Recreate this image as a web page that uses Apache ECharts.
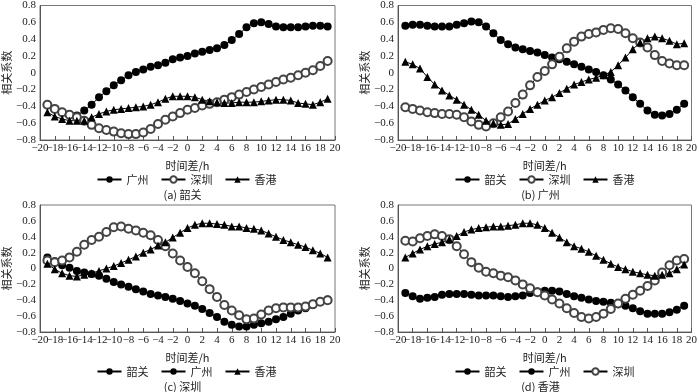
<!DOCTYPE html>
<html><head><meta charset="utf-8">
<script src="https://cdn.jsdelivr.net/npm/echarts@6/dist/echarts.min.js"></script>
<style>html,body{margin:0;padding:0;background:#fff}#c{width:700px;height:392px}</style>
</head><body><div id="c"></div>
<script>
const hours = [-19,-18,-17,-16,-15,-14,-13,-12,-11,-10,-9,-8,-7,-6,-5,-4,-3,-2,-1,0,1,2,3,4,5,6,7,8,9,10,11,12,13,14,15,16,17,18,19];

// (a) 韶关
const a_guangzhou = [-0.38,-0.43,-0.47,-0.50,-0.51,-0.45,-0.38,-0.29,-0.22,-0.15,-0.09,-0.03,0.01,0.04,0.07,0.09,0.12,0.16,0.18,0.20,0.23,0.25,0.27,0.29,0.33,0.39,0.46,0.54,0.59,0.60,0.58,0.55,0.54,0.54,0.54,0.55,0.56,0.56,0.55];
const a_shenzhen = [-0.38,-0.43,-0.47,-0.50,-0.53,-0.57,-0.62,-0.66,-0.68,-0.70,-0.72,-0.73,-0.73,-0.71,-0.67,-0.61,-0.56,-0.52,-0.48,-0.44,-0.42,-0.39,-0.37,-0.35,-0.32,-0.29,-0.26,-0.23,-0.20,-0.17,-0.14,-0.11,-0.08,-0.06,-0.03,0.00,0.03,0.08,0.14];
const a_hongkong = [-0.47,-0.52,-0.55,-0.57,-0.57,-0.57,-0.53,-0.49,-0.46,-0.44,-0.43,-0.42,-0.41,-0.40,-0.38,-0.35,-0.31,-0.28,-0.28,-0.28,-0.29,-0.32,-0.34,-0.35,-0.36,-0.36,-0.35,-0.35,-0.35,-0.34,-0.33,-0.32,-0.32,-0.33,-0.36,-0.37,-0.38,-0.35,-0.31];

// (b) 广州
const b_shaoguan = [0.56,0.57,0.57,0.56,0.55,0.55,0.55,0.57,0.59,0.61,0.60,0.55,0.47,0.39,0.34,0.30,0.28,0.26,0.24,0.21,0.18,0.16,0.13,0.10,0.07,0.04,0.01,-0.03,-0.08,-0.14,-0.21,-0.29,-0.37,-0.45,-0.50,-0.51,-0.49,-0.44,-0.37];
const b_shenzhen = [-0.41,-0.43,-0.45,-0.47,-0.48,-0.49,-0.49,-0.50,-0.53,-0.58,-0.62,-0.64,-0.60,-0.53,-0.46,-0.36,-0.26,-0.15,-0.05,0.02,0.10,0.19,0.29,0.37,0.43,0.46,0.48,0.51,0.53,0.52,0.47,0.41,0.36,0.30,0.21,0.14,0.11,0.09,0.09];
const b_hongkong = [0.13,0.10,0.05,-0.05,-0.14,-0.21,-0.27,-0.32,-0.38,-0.44,-0.50,-0.57,-0.60,-0.62,-0.61,-0.55,-0.49,-0.43,-0.38,-0.33,-0.29,-0.24,-0.19,-0.14,-0.11,-0.08,-0.06,-0.03,0.01,0.09,0.18,0.28,0.36,0.41,0.43,0.41,0.38,0.34,0.35];

// (c) 深圳
const c_shaoguan = [0.14,0.09,0.04,0.01,-0.03,-0.05,-0.07,-0.09,-0.13,-0.17,-0.20,-0.23,-0.26,-0.29,-0.32,-0.34,-0.36,-0.38,-0.41,-0.44,-0.47,-0.51,-0.56,-0.61,-0.67,-0.71,-0.73,-0.73,-0.71,-0.69,-0.67,-0.64,-0.61,-0.57,-0.53,-0.50,-0.46,-0.42,-0.39];
const c_guangzhou = [0.10,0.08,0.10,0.14,0.21,0.30,0.36,0.40,0.46,0.52,0.53,0.50,0.48,0.45,0.42,0.36,0.28,0.19,0.10,0.02,-0.06,-0.16,-0.26,-0.36,-0.46,-0.53,-0.59,-0.64,-0.63,-0.58,-0.53,-0.50,-0.49,-0.49,-0.49,-0.48,-0.45,-0.42,-0.40];
const c_hongkong = [0.06,-0.01,-0.06,-0.09,-0.10,-0.08,-0.06,-0.03,0.00,0.03,0.07,0.11,0.15,0.20,0.24,0.29,0.33,0.39,0.45,0.51,0.55,0.57,0.57,0.56,0.55,0.53,0.53,0.51,0.50,0.48,0.44,0.40,0.36,0.33,0.30,0.27,0.23,0.19,0.14];

// (d) 香港
const d_shaoguan = [-0.31,-0.35,-0.38,-0.37,-0.36,-0.33,-0.32,-0.32,-0.32,-0.33,-0.34,-0.34,-0.34,-0.35,-0.36,-0.35,-0.34,-0.31,-0.29,-0.28,-0.28,-0.29,-0.32,-0.35,-0.37,-0.39,-0.41,-0.42,-0.43,-0.45,-0.47,-0.50,-0.54,-0.57,-0.57,-0.57,-0.55,-0.52,-0.47];
const d_guangzhou = [0.35,0.34,0.38,0.41,0.43,0.41,0.37,0.28,0.18,0.08,0.01,-0.04,-0.06,-0.09,-0.11,-0.15,-0.20,-0.25,-0.30,-0.34,-0.39,-0.44,-0.50,-0.56,-0.61,-0.63,-0.61,-0.57,-0.51,-0.44,-0.38,-0.33,-0.28,-0.22,-0.15,-0.05,0.04,0.10,0.12];
const d_shenzhen = [0.14,0.19,0.24,0.28,0.31,0.33,0.37,0.41,0.46,0.49,0.51,0.52,0.53,0.53,0.54,0.55,0.57,0.57,0.55,0.51,0.45,0.39,0.33,0.28,0.25,0.21,0.16,0.11,0.06,0.02,-0.01,-0.04,-0.06,-0.08,-0.09,-0.08,-0.06,-0.01,0.05];

const xTicks = [-20,-18,-16,-14,-12,-10,-8,-6,-4,-2,0,2,4,6,8,10,12,14,16,18,20];
const yTicks = [-0.8,-0.6,-0.4,-0.2,0,0.2,0.4,0.6,0.8];
const panelCaptions = ['(a) 韶关','(b) 广州','(c) 深圳','(d) 香港'];
const panelSeries = [
  [['广州', a_guangzhou], ['深圳', a_shenzhen], ['香港', a_hongkong]],
  [['韶关', b_shaoguan], ['深圳', b_shenzhen], ['香港', b_hongkong]],
  [['韶关', c_shaoguan], ['广州', c_guangzhou], ['香港', c_hongkong]],
  [['韶关', d_shaoguan], ['广州', d_guangzhou], ['深圳', d_shenzhen]]
];
const symbols = ['circle', 'emptyCircle', 'triangle'];

const serif = '"Liberation Serif", serif';
const cjk = '"Noto Sans CJK SC", sans-serif';
const minus = s => String(s).replace(/-/g, '\u2212');
const xMin = xTicks[0], xMax = xTicks[xTicks.length - 1];

const grids = [
  {left: 40, top: 4, width: 295, height: 136},
  {left: 398, top: 5, width: 295, height: 135},
  {left: 40, top: 205, width: 295, height: 127},
  {left: 398, top: 205, width: 295, height: 127}
];

const option = {
  animation: false,
  textStyle: {fontFamily: serif},
  grid: grids.map(g => Object.assign({show: true, borderColor: '#777', borderWidth: 1, backgroundColor: 'transparent'}, g)),
  xAxis: [], yAxis: [], series: [], legend: [], title: []
};

const xLabelStyle = {fontFamily: serif, fontSize: 11, color: '#222', margin: 3};

grids.forEach((g, i) => {
  option.xAxis.push({
    type: 'value', gridIndex: i, position: 'bottom', min: xMin, max: xMax, interval: 2,
    name: '时间差/h', nameLocation: 'middle', nameGap: 20,
    nameTextStyle: {fontFamily: cjk, fontSize: 11, color: '#222'},
    axisLine: {onZero: false, lineStyle: {color: '#555'}},
    axisTick: {inside: true, length: 4, lineStyle: {color: '#555'}},
    axisLabel: Object.assign({showMinLabel: false, showMaxLabel: true, formatter: v => minus(v)}, xLabelStyle),
    splitLine: {show: false}
  });
  option.xAxis.push({
    type: 'value', gridIndex: i, position: 'bottom', offset: 0, min: xMin, max: xMax, interval: 2,
    axisLine: {show: false, onZero: false}, axisTick: {show: false}, splitLine: {show: false},
    axisLabel: Object.assign({showMinLabel: true, showMaxLabel: false,
      formatter: v => (v === xMin ? minus(v) : '')}, xLabelStyle)
  });
  option.yAxis.push({
    type: 'value', gridIndex: i, min: yTicks[0], max: yTicks[yTicks.length-1], interval: 0.2,
    name: '相关系数', nameLocation: 'middle', nameGap: 28, nameRotate: 90,
    nameTextStyle: {fontFamily: cjk, fontSize: 11, color: '#222'},
    axisLine: {show: true, onZero: false, lineStyle: {color: '#555'}},
    axisTick: {show: false},
    axisLabel: {fontFamily: serif, fontSize: 11, color: '#222', margin: 4, showMinLabel: true, showMaxLabel: true,
      formatter: v => { const r = Math.round(v*10)/10; return r === 0 ? '0' : minus(r.toFixed(1)); }},
    splitLine: {show: false}
  });
  const names = [];
  panelSeries[i].forEach((s, k) => {
    names.push(s[0]);
    const mk = k === 1 ? '#444' : '#000';
    option.series.push({
      type: 'line', name: s[0], xAxisIndex: 2 * i, yAxisIndex: i,
      data: hours.map((h, j) => [h, s[1][j]]),
      symbol: symbols[k], symbolSize: 8,
      showAllSymbol: true,
      color: mk,
      lineStyle: {color: '#000', width: 1},
      itemStyle: {color: mk, borderColor: mk, borderWidth: k === 1 ? 0.8 : 0}
    });
  });
  const cx = g.left + g.width / 2 - 10;
  option.legend.push({
    data: names,
    left: cx - 86, top: g.top + g.height + 29,
    itemWidth: 24, itemHeight: 8, itemGap: 12,
    textStyle: {fontFamily: cjk, fontSize: 11, color: '#222'},
    selectedMode: false
  });
  option.title.push({
    text: panelCaptions[i], left: cx, top: g.top + g.height + 44, textAlign: 'center',
    textStyle: {fontFamily: cjk, fontSize: 11, fontWeight: 'normal', color: '#222'}
  });
});

const chart = echarts.init(document.getElementById('c'));
chart.setOption(option);
</script></body></html>
